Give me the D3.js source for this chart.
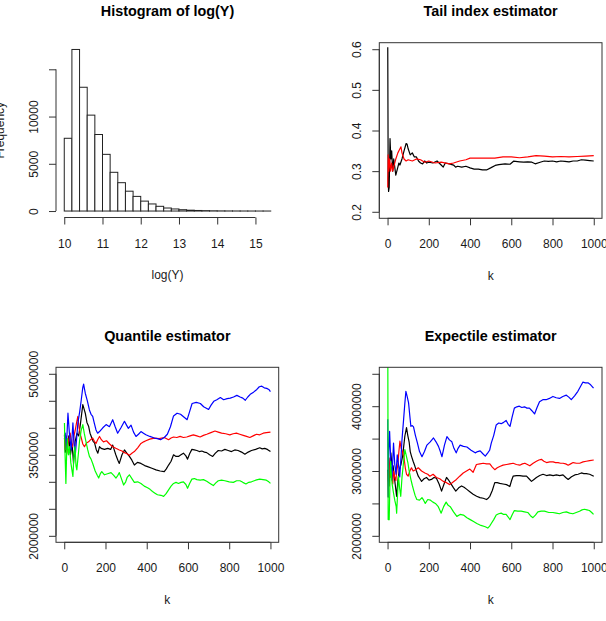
<!DOCTYPE html>
<html>
<head>
<meta charset="utf-8">
<script src="https://cdn.jsdelivr.net/npm/d3@7"></script>
<style>
    body { margin: 0; background: #fff; }
    svg { display: block; font-family: "Liberation Sans", Arial, sans-serif; }
    .axis path, .axis line { stroke: #333; }
    .axis text { font-size: 12px; fill: #1a1a1a; font-family: "Liberation Sans", Arial, sans-serif; }
    .title { font-size: 14.4px; font-weight: bold; }
    .label { font-size: 12px; fill: #1a1a1a; }
</style>
</head>
<body>
<div id="chart"></div>
<script>
// histogram of log(Y): bins of 0.2 starting at 10
const histStart = 10
const histWidth = 0.2
const histCounts = [7700, 17100, 13100, 10150, 8100, 6000, 4100, 3000, 2100, 1550, 1050, 750, 500, 320,
    220, 140, 90, 60, 40, 25, 15, 10, 6, 4, 2, 1, 1]
const histXTicks = [10, 11, 12, 13, 14, 15]
const histYTicks = [0, 5000, 10000, 15000]
const histYLabels = [0, 5000, 10000]

// tail index estimator, [k, value]
const tailBlack = [[1,0.605],[2,0.45],[3,0.28],[5,0.25],[8,0.26],[12,0.38],[16,0.33],[20,0.35],[25,0.30],[30,0.33],
    [35,0.31],[40,0.29],[45,0.30],[50,0.31],[55,0.32],[60,0.315],[70,0.33],[80,0.35],[90,0.368],[95,0.366],[100,0.355],
    [110,0.34],[120,0.345],[130,0.335],[140,0.335],[150,0.325],[160,0.32],[170,0.318],[180,0.325],[190,0.32],[200,0.322],
    [220,0.32],[240,0.325],[260,0.315],[270,0.31],[280,0.32],[300,0.318],[320,0.315],[330,0.31],[340,0.312],[360,0.31],
    [380,0.312],[400,0.308],[420,0.305],[440,0.305],[460,0.303],[480,0.303],[500,0.308],[522,0.314],[540,0.316],[570,0.318],
    [594,0.317],[611,0.3245],[640,0.323],[660,0.322],[680,0.323],[700,0.322],[716,0.318],[740,0.322],[760,0.325],[780,0.324],
    [800,0.325],[820,0.323],[840,0.325],[860,0.324],[880,0.323],[900,0.325],[920,0.325],[940,0.328],[960,0.327],[980,0.326],[1000,0.325]]
const tailRed = [[1,0.26],[3,0.34],[6,0.30],[10,0.33],[15,0.30],[20,0.32],[25,0.30],[30,0.31],[40,0.33],[50,0.345],
    [60,0.355],[65,0.36],[70,0.345],[80,0.33],[90,0.325],[100,0.328],[120,0.325],[140,0.33],[160,0.328],[180,0.322],
    [200,0.325],[230,0.32],[260,0.322],[300,0.318],[320,0.32],[350,0.325],[380,0.328],[400,0.332],[440,0.332],[480,0.332],
    [520,0.332],[560,0.335],[600,0.335],[640,0.333],[680,0.335],[720,0.338],[760,0.337],[800,0.335],[840,0.336],[880,0.335],
    [920,0.336],[960,0.337],[1000,0.338]]
const tailYTicks = [0.2, 0.3, 0.4, 0.5, 0.6]

// quantile estimator, [k, value in millions]
const quantBlack = [[1,3.87],[5,3.55],[10,3.75],[15,3.6],[22,3.85],[30,3.5],[38,3.7],[45,3.34],[53,3.75],[62,3.90],
    [70,3.85],[78,4.06],[90,4.43],[96,4.35],[102,4.27],[110,4.1],[118,4.03],[125,3.9],[131,3.84],[140,3.75],[147,3.72],
    [155,3.6],[163,3.53],[171,3.65],[179,3.62],[195,3.6],[211,3.62],[225,3.6],[235,3.68],[250,3.5],[260,3.4],[267,3.34],
    [280,3.5],[292,3.59],[305,3.52],[316,3.47],[328,3.4],[340,3.31],[355,3.36],[372,3.34],[390,3.3],[404,3.28],[425,3.25],
    [445,3.22],[465,3.2],[485,3.19],[495,3.24],[506,3.31],[518,3.38],[530,3.50],[542,3.47],[554,3.47],[566,3.5],[578,3.53],
    [590,3.48],[598,3.42],[608,3.52],[619,3.60],[631,3.59],[643,3.58],[655,3.56],[667,3.57],[680,3.55],[691,3.54],[705,3.5],
    [720,3.47],[733,3.53],[747,3.58],[763,3.57],[779,3.60],[795,3.58],[811,3.56],[827,3.59],[843,3.58],[860,3.55],[876,3.51],
    [892,3.55],[908,3.58],[928,3.6],[948,3.63],[960,3.61],[972,3.62],[985,3.6],[1000,3.56]]
const quantRed = [[1,3.81],[5,3.6],[9,3.85],[13,3.53],[20,3.75],[29,3.90],[35,3.7],[40,3.65],[47,3.85],[53,3.95],
    [60,4.1],[66,4.21],[72,4.0],[80,3.85],[90,3.7],[98,3.65],[108,3.72],[118,3.74],[128,3.78],[138,3.81],[146,3.75],
    [154,3.71],[162,3.78],[171,3.84],[180,3.78],[190,3.74],[205,3.76],[220,3.7],[235,3.65],[250,3.62],[267,3.59],[280,3.57],
    [292,3.54],[305,3.52],[316,3.49],[328,3.53],[340,3.56],[356,3.63],[372,3.71],[385,3.74],[396,3.76],[415,3.79],[437,3.81],
    [460,3.8],[485,3.82],[506,3.78],[518,3.81],[530,3.83],[546,3.82],[562,3.84],[578,3.82],[594,3.83],[610,3.85],[626,3.87],
    [643,3.85],[659,3.83],[675,3.86],[691,3.88],[711,3.91],[731,3.94],[747,3.92],[763,3.90],[783,3.89],[803,3.87],[819,3.89],
    [835,3.90],[851,3.88],[868,3.86],[884,3.84],[900,3.82],[916,3.85],[932,3.88],[948,3.87],[965,3.90],[980,3.91],[1000,3.92]]
const quantBlue = [[1,3.8],[5,3.90],[10,3.6],[18,4.27],[25,3.9],[34,3.59],[42,4.09],[48,3.7],[53,3.47],[60,3.8],
    [66,4.09],[75,4.3],[82,4.5],[90,4.75],[94,4.81],[98,4.72],[102,4.64],[112,4.5],[122,4.33],[130,4.25],[138,4.21],
    [146,4.08],[154,3.96],[162,3.9],[171,3.93],[187,4.0],[203,4.06],[219,4.02],[235,4.15],[247,4.02],[259,3.90],[275,4.0],
    [292,4.12],[302,4.05],[311,3.99],[324,4.05],[336,3.92],[348,3.84],[360,3.88],[372,3.93],[384,3.9],[396,3.87],[415,3.84],
    [437,3.81],[452,3.8],[467,3.78],[485,3.82],[500,3.88],[515,4.02],[530,4.22],[547,4.27],[564,4.25],[580,4.2],[596,4.15],
    [608,4.3],[620,4.45],[640,4.47],[660,4.45],[676,4.39],[700,4.34],[712,4.42],[725,4.49],[740,4.52],[757,4.56],[773,4.52],
    [790,4.54],[805,4.55],[821,4.57],[837,4.6],[853,4.57],[866,4.55],[878,4.51],[890,4.57],[902,4.62],[918,4.66],[934,4.71],
    [946,4.76],[958,4.77],[970,4.74],[982,4.73],[992,4.71],[1000,4.67]]
const quantGreen = [[1,4.09],[4,3.5],[8,2.97],[12,3.6],[15,3.8],[20,3.5],[26,3.65],[32,3.35],[42,3.10],[47,3.5],
    [52,3.65],[57,3.3],[61,3.22],[68,3.5],[74,3.75],[82,3.95],[90,4.06],[97,3.9],[105,3.75],[114,3.59],[122,3.47],
    [130,3.42],[138,3.34],[150,3.2],[160,3.12],[167,3.07],[175,3.15],[182,3.19],[195,3.13],[210,3.15],[227,3.17],[240,3.12],
    [251,3.07],[260,3.12],[267,3.17],[278,3.05],[288,2.94],[298,3.0],[305,3.08],[316,3.13],[328,3.06],[340,2.99],[356,3.0],
    [372,2.97],[388,2.92],[404,2.89],[416,2.86],[428,2.82],[440,2.79],[452,2.76],[469,2.75],[482,2.73],[494,2.78],[506,2.85],
    [518,2.92],[530,2.97],[542,2.99],[554,2.97],[566,2.99],[578,3.0],[590,2.95],[598,2.88],[608,2.97],[619,3.05],[631,3.06],
    [643,3.04],[659,3.03],[675,3.04],[691,3.01],[707,2.97],[723,2.93],[735,2.98],[747,3.02],[763,3.03],[779,3.02],[800,3.0],
    [820,2.99],[836,3.02],[852,3.02],[866,2.99],[881,2.96],[895,2.99],[908,3.0],[928,3.03],[948,3.05],[964,3.04],[980,3.03],
    [992,3.0],[1000,2.97]]
const quantYTicks = [2, 2.5, 3, 3.5, 4, 4.5, 5]
const quantYLabels = [2, 3.5, 5]

// expectile estimator, [k, value in millions]
const expBlack = [[1,3.02],[4,2.85],[8,2.77],[12,3.1],[16,3.28],[21,3.1],[27,3.08],[35,2.85],[44,2.61],[50,2.85],
    [57,3.02],[65,3.1],[73,3.23],[79,3.4],[84,3.54],[92,3.67],[98,3.55],[105,3.44],[110,3.3],[116,3.23],[124,3.15],
    [132,3.08],[140,3.0],[149,2.92],[157,2.88],[165,2.84],[177,2.88],[189,2.90],[201,2.86],[213,2.87],[225,2.9],[237,2.89],
    [250,2.8],[262,2.69],[274,2.8],[286,2.90],[298,2.85],[310,2.79],[320,2.74],[331,2.69],[345,2.74],[359,2.77],[371,2.75],
    [383,2.72],[399,2.68],[415,2.64],[432,2.61],[448,2.59],[464,2.58],[480,2.56],[488,2.58],[496,2.61],[508,2.7],[520,2.82],
    [532,2.82],[544,2.81],[560,2.8],[577,2.79],[593,2.76],[601,2.85],[609,2.92],[625,2.93],[641,2.93],[657,2.92],[674,2.92],
    [686,2.88],[698,2.84],[710,2.87],[722,2.9],[738,2.93],[754,2.95],[771,2.93],[787,2.94],[803,2.93],[819,2.94],[835,2.93],
    [851,2.94],[864,2.9],[876,2.87],[892,2.91],[908,2.94],[924,2.95],[940,2.97],[952,2.96],[964,2.96],[980,2.95],[1000,2.92]]
const expRed = [[1,2.97],[4,2.6],[8,3.0],[12,3.2],[16,2.9],[20,3.05],[25,2.8],[30,3.0],[35,2.9],[40,2.85],[45,3.0],
    [50,3.1],[55,3.3],[60,3.46],[66,3.35],[72,3.3],[80,3.2],[86,3.05],[92,2.95],[100,2.92],[108,3.0],[116,3.05],[124,3.0],
    [136,3.02],[149,3.05],[165,3.0],[181,2.97],[195,2.95],[205,2.92],[221,2.95],[237,2.90],[253,2.88],[270,2.84],[286,2.82],
    [302,2.79],[318,2.83],[334,2.87],[350,2.92],[367,2.97],[383,3.0],[399,3.03],[415,2.98],[431,3.10],[448,3.11],[464,3.12],
    [480,3.11],[496,3.11],[508,3.06],[520,3.02],[532,3.05],[544,3.07],[560,3.09],[577,3.10],[593,3.11],[609,3.12],[625,3.10],
    [641,3.09],[654,3.11],[666,3.12],[678,3.10],[690,3.08],[706,3.12],[722,3.15],[734,3.17],[746,3.18],[758,3.15],[771,3.13],
    [787,3.14],[803,3.14],[815,3.13],[827,3.13],[839,3.12],[851,3.12],[864,3.11],[876,3.09],[888,3.11],[900,3.13],[916,3.12],
    [932,3.12],[948,3.14],[964,3.15],[980,3.16],[1000,3.17]]
const expBlue = [[1,3.8],[3,2.6],[6,3.3],[10,3.61],[15,3.2],[21,2.86],[29,3.43],[35,3.1],[41,2.95],[47,3.25],[53,3.1],
    [59,2.91],[65,3.2],[70,3.48],[78,3.8],[84,4.05],[89,4.23],[95,4.15],[102,4.05],[108,3.85],[113,3.69],[120,3.7],
    [126,3.68],[135,3.55],[145,3.43],[155,3.3],[167,3.22],[179,3.3],[191,3.40],[207,3.45],[223,3.51],[235,3.45],[247,3.38],
    [256,3.3],[264,3.22],[276,3.4],[288,3.53],[300,3.48],[312,3.45],[322,3.35],[333,3.28],[342,3.35],[352,3.4],[368,3.38],
    [385,3.37],[405,3.32],[425,3.28],[437,3.3],[449,3.31],[461,3.27],[474,3.23],[486,3.28],[495,3.32],[503,3.43],[515,3.55],
    [527,3.71],[539,3.74],[551,3.73],[563,3.75],[575,3.78],[585,3.72],[594,3.69],[604,3.83],[615,3.97],[627,3.99],[639,4.0],
    [651,3.98],[664,3.99],[676,3.97],[688,3.97],[700,3.93],[713,3.88],[725,3.98],[737,4.07],[753,4.1],[769,4.1],[785,4.12],
    [802,4.15],[818,4.13],[834,4.12],[850,4.15],[867,4.17],[879,4.14],[891,4.10],[907,4.16],[923,4.23],[935,4.3],[947,4.37],
    [960,4.36],[972,4.36],[985,4.33],[999,4.28]]
const expGreen = [[1,5.2],[3,2.25],[8,2.25],[12,2.9],[15,3.15],[17,3.02],[22,2.8],[29,2.66],[35,2.55],[42,2.45],[44,2.35],
    [48,2.6],[53,2.92],[58,2.75],[64,2.61],[70,2.9],[78,3.15],[84,3.33],[90,3.25],[99,3.12],[106,2.98],[114,2.86],[120,2.78],
    [126,2.71],[134,2.62],[142,2.56],[155,2.55],[167,2.59],[175,2.55],[183,2.50],[195,2.56],[208,2.55],[220,2.52],[232,2.50],
    [246,2.45],[260,2.35],[272,2.45],[284,2.52],[294,2.47],[304,2.45],[320,2.37],[336,2.30],[352,2.33],[368,2.32],[385,2.28],
    [401,2.25],[417,2.22],[433,2.19],[453,2.16],[474,2.14],[486,2.12],[495,2.15],[503,2.19],[515,2.25],[527,2.32],[539,2.34],
    [551,2.35],[563,2.33],[575,2.33],[585,2.29],[594,2.25],[605,2.33],[615,2.39],[631,2.38],[648,2.38],[664,2.37],[680,2.36],
    [693,2.31],[705,2.28],[717,2.32],[729,2.37],[745,2.38],[761,2.38],[782,2.36],[802,2.36],[818,2.35],[834,2.34],[850,2.36],
    [867,2.37],[883,2.35],[899,2.34],[915,2.36],[931,2.38],[943,2.4],[955,2.41],[967,2.4],[979,2.39],[990,2.36],[999,2.33]]
const expYTicks = [2, 2.5, 3, 3.5, 4, 4.5]
const expYLabels = [2, 3, 4]

const kTicks = [0, 200, 400, 600, 800, 1000]
const million = 1e6

const svg = d3.select('#chart')
    .append('svg')
        .attr('width', 606)
        .attr('height', 621)

// R style: 4% padding on each side of the limits
const pad = ([a, b]) => [a - (b - a) * 0.04, b + (b - a) * 0.04]

const createPanel = ({id, left, top, width, height, xLim, yLim, boxed, title, xLabel, yLabel}) => {
    const xScale = d3.scaleLinear().domain(pad(xLim)).range([left, left + width])
    const yScale = d3.scaleLinear().domain(pad(yLim)).range([top + height, top])

    svg.append('clipPath')
        .attr('id', 'clip-' + id)
        .append('rect')
            .attr('x', left).attr('y', top)
            .attr('width', width).attr('height', height)

    const plot = svg.append('g').attr('clip-path', 'url(#clip-' + id + ')')

    if (boxed) {
        svg.append('rect')
            .attr('x', left).attr('y', top)
            .attr('width', width).attr('height', height)
            .style('fill', 'none')
            .style('stroke', '#333')
    }

    svg.append('text')
        .attr('class', 'title')
        .attr('x', left + width / 2)
        .attr('y', top - 26.7)
        .attr('text-anchor', 'middle')
        .text(title)

    svg.append('text')
        .attr('class', 'label')
        .attr('x', left + width / 2)
        .attr('y', top + height + 61.5)
        .attr('text-anchor', 'middle')
        .text(xLabel)

    if (yLabel) {
        svg.append('text')
            .attr('class', 'label')
            .attr('transform', 'translate(4,' + (top + height / 2) + ') rotate(-90)')
            .attr('text-anchor', 'middle')
            .text(yLabel)
    }

    return {left, top, width, height, xScale, yScale, plot}
}

const addXAxis = (panel, ticks, fmt) => {
    const g = svg.append('g')
        .attr('class', 'axis')
        .attr('transform', 'translate(0,' + (panel.top + panel.height) + ')')
        .call(d3.axisBottom(panel.xScale).tickValues(ticks).tickSize(7).tickSizeOuter(0).tickFormat(fmt))
    g.select('.domain')
        .attr('d', 'M' + panel.xScale(ticks[0]) + ',0H' + panel.xScale(ticks[ticks.length - 1]))
    g.selectAll('text')
        .attr('y', 30)
        .attr('dy', 0)
}

const addYAxis = (panel, ticks, labels, fmt) => {
    const g = svg.append('g')
        .attr('class', 'axis')
        .attr('transform', 'translate(' + panel.left + ',0)')
        .call(d3.axisLeft(panel.yScale).tickValues(ticks).tickSize(7).tickSizeOuter(0)
            .tickFormat((d) => labels.includes(d) ? fmt(d) : ''))
    g.select('.domain')
        .attr('d', 'M0,' + panel.yScale(ticks[0]) + 'V' + panel.yScale(ticks[ticks.length - 1]))
    g.selectAll('text')
        .attr('x', 0)
        .attr('y', -18.5)
        .attr('dy', 0)
        .attr('text-anchor', 'middle')
        .attr('transform', 'rotate(-90)')
}

const plotSeries = (panel, series, color, scale = 1) => {
    const line = d3.line()
        .x((d) => panel.xScale(d[0]))
        .y((d) => panel.yScale(d[1] * scale))
    panel.plot.append('path')
        .attr('d', line(series))
        .style('fill', 'none')
        .style('stroke', color)
        .style('stroke-width', 1.2)
        .style('stroke-linejoin', 'round')
}

// Histogram of log(Y)
const histBins = histCounts.map((c, i) => ({
    x0: histStart + i * histWidth,
    x1: histStart + (i + 1) * histWidth,
    count: c
}))
const hist = createPanel({
    id: 'hist', left: 56, top: 43, width: 223, height: 174.5,
    xLim: [histStart, histBins[histBins.length - 1].x1], yLim: [0, d3.max(histCounts)],
    boxed: false, title: 'Histogram of log(Y)', xLabel: 'log(Y)', yLabel: 'Frequency'
})
hist.plot.selectAll('rect.bar')
    .data(histBins)
    .enter()
    .append('rect')
        .attr('class', 'bar')
        .attr('x', (d) => hist.xScale(d.x0))
        .attr('width', (d) => hist.xScale(d.x1) - hist.xScale(d.x0))
        .attr('y', (d) => hist.yScale(d.count))
        .attr('height', (d) => hist.yScale(0) - hist.yScale(d.count))
        .style('fill', '#fff')
        .style('stroke', '#222')
        .style('stroke-width', 1)
addXAxis(hist, histXTicks, d3.format('d'))
addYAxis(hist, histYTicks, histYLabels, d3.format('d'))

// Tail index estimator
const tail = createPanel({
    id: 'tail', left: 379.3, top: 42.7, width: 222.7, height: 175.6,
    xLim: [0, 1000], yLim: [0.2, 0.6],
    boxed: true, title: 'Tail index estimator', xLabel: 'k'
})
plotSeries(tail, tailBlack, '#000')
plotSeries(tail, tailRed, '#ff0000')
addXAxis(tail, kTicks, d3.format('d'))
addYAxis(tail, tailYTicks, tailYTicks, d3.format('.1f'))

// Quantile estimator
const quant = createPanel({
    id: 'quant', left: 56, top: 367.3, width: 222.7, height: 175,
    xLim: [0, 1000], yLim: [2 * million, 5 * million],
    boxed: true, title: 'Quantile estimator', xLabel: 'k'
})
plotSeries(quant, quantBlack, '#000', million)
plotSeries(quant, quantRed, '#ff0000', million)
plotSeries(quant, quantBlue, '#0000ff', million)
plotSeries(quant, quantGreen, '#00ff00', million)
addXAxis(quant, kTicks, d3.format('d'))
addYAxis(quant, quantYTicks.map((d) => d * million), quantYLabels.map((d) => d * million), d3.format('d'))

// Expectile estimator
const expec = createPanel({
    id: 'expec', left: 379.3, top: 367.3, width: 222.7, height: 175,
    xLim: [0, 1000], yLim: [2 * million, 4.5 * million],
    boxed: true, title: 'Expectile estimator', xLabel: 'k'
})
plotSeries(expec, expBlack, '#000', million)
plotSeries(expec, expRed, '#ff0000', million)
plotSeries(expec, expBlue, '#0000ff', million)
plotSeries(expec, expGreen, '#00ff00', million)
addXAxis(expec, kTicks, d3.format('d'))
addYAxis(expec, expYTicks.map((d) => d * million), expYLabels.map((d) => d * million), d3.format('d'))
</script>
</body>
</html>
